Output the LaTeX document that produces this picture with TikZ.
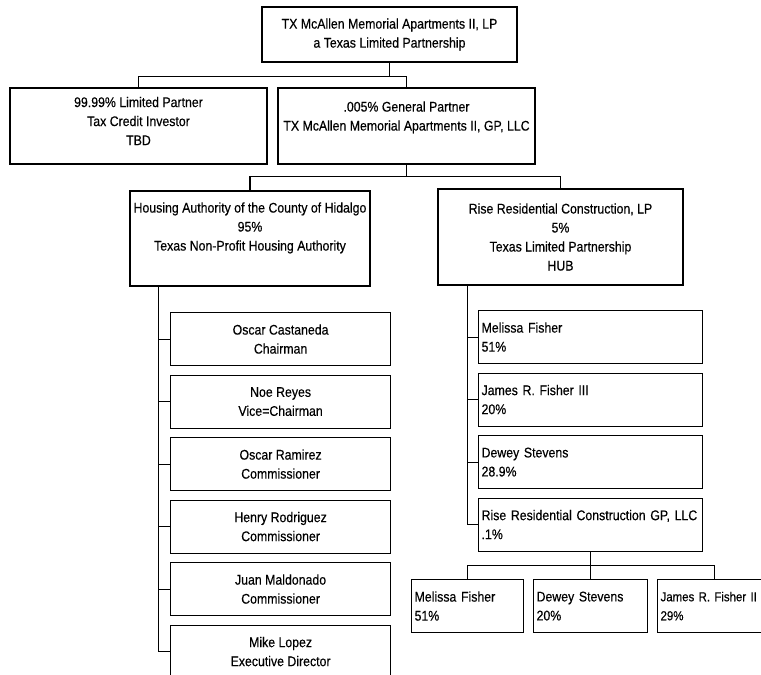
\documentclass[tikz,border=0pt]{standalone}
\usepackage{fontspec}
\setmainfont{Liberation Sans}[FakeStretch=0.88, FakeBold=0.4]
\usetikzlibrary{positioning}

\begin{document}
\begin{tikzpicture}[x=1pt, y=1pt,
        node distance=8.3pt,
        entity/.style={rectangle, draw=black, line width=1.2pt, inner sep=2pt, align=center, font=\fontsize{14}{19}\selectfont},
        member/.style={entity, minimum width=220pt, minimum height=53pt},
        share/.style={rectangle, draw=black, line width=1.2pt, inner xsep=3pt, inner ysep=2pt, text width=#1, minimum height=53pt, align=left, font=\fontsize{14}{19}\selectfont},
        link/.style={line width=1.2pt}
    ]
        \useasboundingbox (0,0) rectangle (761,-675);

        % partnership and its two partners
        \node[entity, minimum width=255pt, minimum height=55pt] (top) at (389.5,-34.5) {TX McAllen Memorial Apartments II, LP\\a Texas Limited Partnership};
        \node[entity, minimum width=257pt, minimum height=76pt, text depth=10pt] (lp) at (138.5,-126) {99.99\% Limited Partner\\Tax Credit Investor\\TBD};
        \node[entity, minimum width=257pt, minimum height=76pt, text depth=20pt] (gp) at (406.5,-126) {.005\% General Partner\\TX McAllen Memorial Apartments II, GP, LLC};

        % owners of the general partner
        \node[entity, minimum width=240pt, minimum height=95pt, text depth=24pt] (hou) at (250,-238.5) {Housing Authority of the County of Hidalgo\\95\%\\Texas Non-Profit Housing Authority};
        \node[entity, minimum width=245pt, minimum height=96pt] (rise) at (560.5,-237) {Rise Residential Construction, LP\\5\%\\Texas Limited Partnership\\HUB};

        % housing authority board
        \node[member, anchor=north west] (osc) at (170,-312) {Oscar Castaneda\\Chairman};
        \node[member, below=of osc] (noe) {Noe Reyes\\Vice=Chairman};
        \node[member, below=of noe] (ram) {Oscar Ramirez\\Commissioner};
        \node[member, below=of ram] (rod) {Henry Rodriguez\\Commissioner};
        \node[member, below=of rod] (mal) {Juan Maldonado\\Commissioner};
        \node[member, below=of mal] (lop) {Mike Lopez\\Executive Director};

        % rise residential owners
        \node[share=218pt, anchor=north west] (mf) at (478,-310) {Melissa Fisher\\51\%};
        \node[share=218pt, below=of mf] (jf) {James R. Fisher III\\20\%};
        \node[share=218pt, below=of jf] (ds) {Dewey Stevens\\28.9\%};
        \node[share=218pt, below=of ds] (rgp) {Rise Residential Construction GP, LLC\\.1\%};

        % rise GP owners
        \node[share=106pt, anchor=north west] (mf2) at (411,-579) {Melissa Fisher\\51\%};
        \node[share=108pt, right=8.8pt of mf2] (ds2) {Dewey Stevens\\20\%};
        \node[share=108pt, right=8.8pt of ds2, font=\fontsize{13}{19}\selectfont] (jf2) {James R. Fisher II\\29\%};

        \draw[link] (top.south) -- ++(0,-14) -| (lp.north);
        \draw[link] (top.south) -- ++(0,-14) -| (gp.north);
        \draw[link] (gp.south) -- ++(0,-12) -| (hou.north);
        \draw[link] (gp.south) -- ++(0,-12) -| (rise.north);
        \foreach \m in {osc,noe,ram,rod,mal,lop}
            \draw[link] ([xshift=29pt]hou.south west) |- (\m.west);
        \foreach \m in {mf,jf,ds,rgp}
            \draw[link] ([xshift=30pt]rise.south west) |- (\m.west);
        \foreach \m in {mf2,ds2,jf2}
            \draw[link] (rgp.south) -- ++(0,-14) -| (\m.north);
    \end{tikzpicture}
\end{document}
